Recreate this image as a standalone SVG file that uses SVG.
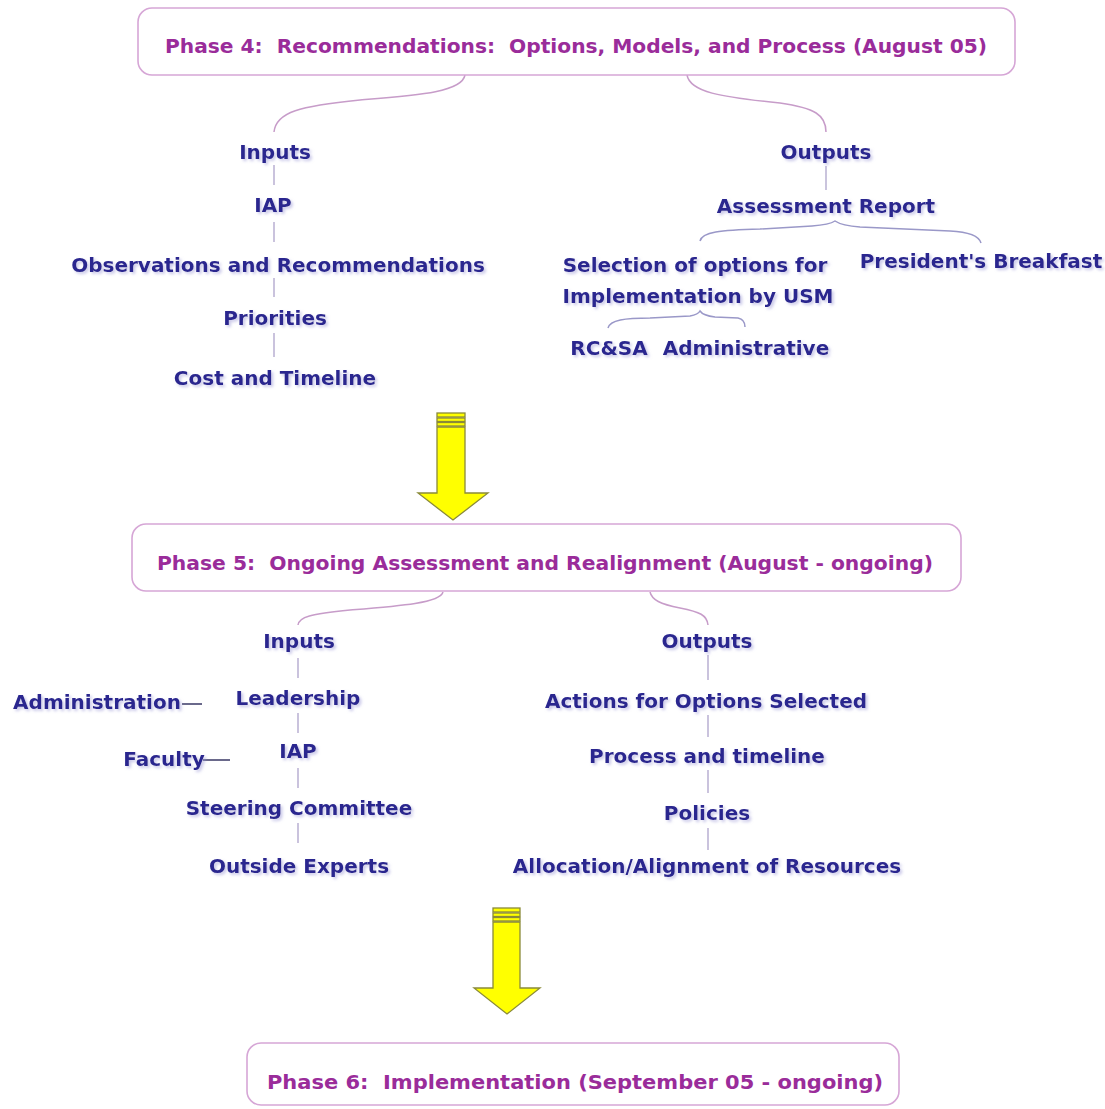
<svg xmlns="http://www.w3.org/2000/svg" width="1105" height="1109" viewBox="0 0 1105 1109">
<defs>
<style>
.phase{fill:#fff;stroke:#d6a6d6;stroke-width:1.6}
.pt{font-family:"DejaVu Sans",Verdana,sans-serif;font-weight:bold;font-size:20px;fill:#9a2c9a;text-anchor:middle;white-space:pre}
.nt{font-family:"DejaVu Sans",Verdana,sans-serif;font-weight:bold;font-size:20px;fill:#2a268f;text-anchor:middle}
.v{stroke:#b9b0d2;stroke-width:1.5;fill:none}
.c{stroke:#c79cc9;stroke-width:1.5;fill:none}
.b{stroke:#9a98c8;stroke-width:1.5;fill:none}
.d{stroke:#3a3866;stroke-width:1.5;fill:none}
.arr{fill:#ffff00;stroke:#8a8a3a;stroke-width:1.3}
</style>
<filter id="sh" x="-10%" y="-30%" width="120%" height="160%">
<feDropShadow dx="2" dy="2" stdDeviation="1.4" flood-color="#9c9ad6" flood-opacity="0.55"/>
</filter>
</defs>
<rect width="1105" height="1109" fill="#fff"/>

<g id="connectors">
<path class="c" d="M465,75 C462,92 420,95 360,100 C300,106 276,112 274,132"/>
<path class="c" d="M687,75 C690,92 720,97 780,103 C815,108 826,115 826,132"/>
<path class="v" d="M274,165 V185 M274,222 V242 M274,278 V297 M274,333 V357"/>
<path class="v" d="M826,166 V190"/>
<path class="b" d="M700,241 C702,232 720,230 760,229 L812,226 C826,225 832,223 835,221 C838,223 845,226 860,227 L950,231 C970,232 979,236 981,243"/>
<path class="b" d="M608,328 C610,320 625,318 650,318 L690,316 C696,315 699,313 700,311 C702,314 706,316 715,317 L738,318 C743,319 745,322 745,327"/>
<path class="c" d="M443,592 C440,603 400,606 350,610 C310,614 299,617 298,625"/>
<path class="c" d="M650,592 C652,600 660,604 680,608 C700,612 707,615 708,625"/>
<path class="v" d="M298,658 V678 M298,713 V733 M298,768 V788 M298,823 V843"/>
<path class="v" d="M708,655 V680 M708,715 V737 M708,770 V793 M708,828 V850"/>
<path class="d" d="M182,704 H202 M203,760 H230"/>
</g>

<g id="phase4">
<rect class="phase" x="138" y="8" width="877" height="67" rx="14"/>
<text class="pt" x="576" y="53" textLength="822" lengthAdjust="spacingAndGlyphs" xml:space="preserve">Phase 4:  Recommendations:  Options, Models, and Process (August 05)</text>
</g>
<g id="p4-inputs" filter="url(#sh)">
<text class="nt" x="275" y="159">Inputs</text>
<text class="nt" x="273" y="212">IAP</text>
<text class="nt" x="278" y="272">Observations and Recommendations</text>
<text class="nt" x="275" y="325">Priorities</text>
<text class="nt" x="275" y="385">Cost and Timeline</text>
</g>
<g id="p4-outputs" filter="url(#sh)">
<text class="nt" x="826" y="159">Outputs</text>
<text class="nt" x="826" y="213">Assessment Report</text>
<text class="nt" x="695" y="272">Selection of options for</text>
<text class="nt" x="698" y="303">Implementation by USM</text>
<text class="nt" x="981" y="268">President's Breakfast</text>
<text class="nt" x="609" y="355">RC&amp;SA</text>
<text class="nt" x="746" y="355">Administrative</text>
</g>

<g id="arrow1">
<path class="arr" d="M437,427 H465 V493 H488 L453,520 L418,493 H437 Z"/>
<rect class="arr" x="437" y="413" width="28" height="4" fill="#e6e600"/>
<rect class="arr" x="437" y="418" width="28" height="3.5"/>
<rect class="arr" x="437" y="422.5" width="28" height="3.5"/>
</g>

<g id="phase5">
<rect class="phase" x="132" y="524" width="829" height="67" rx="14"/>
<text class="pt" x="545" y="570" textLength="776" lengthAdjust="spacingAndGlyphs" xml:space="preserve">Phase 5:  Ongoing Assessment and Realignment (August - ongoing)</text>
</g>
<g id="p5-inputs" filter="url(#sh)">
<text class="nt" x="299" y="648">Inputs</text>
<text class="nt" x="298" y="705">Leadership</text>
<text class="nt" x="97" y="709">Administration</text>
<text class="nt" x="298" y="758">IAP</text>
<text class="nt" x="164" y="766">Faculty</text>
<text class="nt" x="299" y="815">Steering Committee</text>
<text class="nt" x="299" y="873">Outside Experts</text>
</g>
<g id="p5-outputs" filter="url(#sh)">
<text class="nt" x="707" y="648">Outputs</text>
<text class="nt" x="706" y="708">Actions for Options Selected</text>
<text class="nt" x="707" y="763">Process and timeline</text>
<text class="nt" x="707" y="820">Policies</text>
<text class="nt" x="707" y="873">Allocation/Alignment of Resources</text>
</g>

<g id="arrow2">
<path class="arr" d="M493,922 H520 V988 H540 L507,1014 L474,988 H493 Z"/>
<rect class="arr" x="493" y="908" width="27" height="4" fill="#e6e600"/>
<rect class="arr" x="493" y="913" width="27" height="3.5"/>
<rect class="arr" x="493" y="917.5" width="27" height="3.5"/>
</g>

<g id="phase6">
<rect class="phase" x="247" y="1043" width="652" height="62" rx="14"/>
<text class="pt" x="575" y="1089" textLength="616" lengthAdjust="spacingAndGlyphs" xml:space="preserve">Phase 6:  Implementation (September 05 - ongoing)</text>
</g>
</svg>
